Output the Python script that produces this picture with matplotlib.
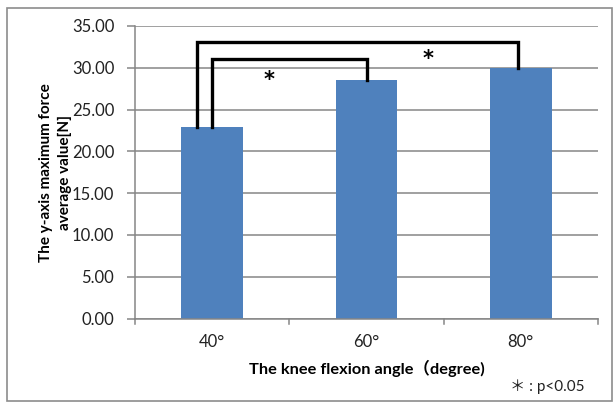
import matplotlib
matplotlib.use("Agg")
import matplotlib.pyplot as plt
from matplotlib.patches import Rectangle

# Data
angles = ["40°", "60°", "80°"]
force_means = [22.90, 28.50, 30.00]
y_ticks = [0, 5, 10, 15, 20, 25, 30, 35]

# Significance brackets: (left x, right x, bracket height, star x, star y)
brackets = [
    (-0.10, 1.98, 33.1, 1.40, 31.0),
    (0.00, 1.00, 31.0, 0.37, 28.5),
]

W, H = 614, 403
fig = plt.figure(figsize=(W / 100, H / 100), dpi=100)
plt.rcParams['font.family'] = ['Lato', 'Noto Sans CJK JP', 'DejaVu Sans']

grid_c = "#868686"
text_c = "#222222"
ax = fig.add_axes([135 / W, 1 - 318.5 / H, (598 - 135) / W, (318.5 - 26) / H])

x = range(len(angles))
ax.bar(x, force_means, width=0.4, color="#4F81BD", zorder=2)

ax.set_xlim(-0.5, 2.5)
ax.set_ylim(0, 35)
ax.set_yticks(y_ticks)
ax.set_yticklabels([f"{v:.2f}" for v in y_ticks], fontsize=12, color=text_c)
ax.yaxis.grid(True, color=grid_c, linewidth=1.1, zorder=0)
ax.set_axisbelow(True)

ax.set_xticks(list(x))
ax.set_xticklabels(angles, fontsize=12, color=text_c)
ax.tick_params(axis='x', length=0, pad=11)
# boundary ticks between categories
for b in [-0.5, 0.5, 1.5, 2.5]:
    ax.plot([b, b], [0, -0.6], color=grid_c, lw=1.1, clip_on=False, zorder=3)
ax.tick_params(axis='y', length=6, color=grid_c, width=1.1, pad=9)

for s in ["top", "right"]:
    ax.spines[s].set_visible(False)
for s in ["left", "bottom"]:
    ax.spines[s].set_color(grid_c)
    ax.spines[s].set_linewidth(1.1)

# Significance brackets
for (xl, xr, h, sx, sy) in brackets:
    il = int(round(xl))
    ir = int(round(xr))
    ax.plot([xl, xl, xr, xr], [force_means[il], h, h, force_means[ir]],
            color="black", lw=2.4, solid_joinstyle='miter', zorder=4, clip_on=False)
    ax.text(sx, sy, "*", ha="center", va="center", fontsize=15,
            fontweight="bold", color="black", zorder=5, family="DejaVu Sans")

ax.set_ylabel("The y-axis maximum force\naverage value[N]", fontsize=11,
              fontweight="bold", linespacing=1.4)
ax.yaxis.set_label_coords((72 - 135) / (598 - 135), 0.5)
ax.set_xlabel("The knee flexion angle（degree)", fontsize=11.8,
              fontweight="bold", labelpad=7)

fig.text(510 / W, 1 - 387 / H, "＊ : p<0.05", fontsize=11, ha="left",
         va="center", color=text_c)

# Chart area border
fig.patches.append(Rectangle((7 / W, 1 - 401 / H), (612 - 7) / W, (401 - 8) / H,
                             transform=fig.transFigure, fill=False,
                             edgecolor="#8c8c8c", lw=1.2))

fig.savefig("out.png", dpi=100, facecolor="white")
